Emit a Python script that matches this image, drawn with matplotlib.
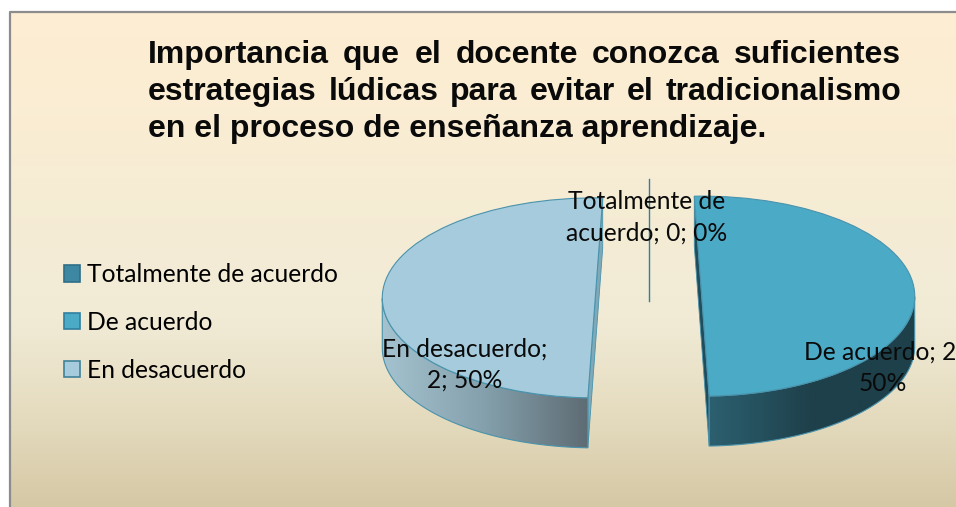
import numpy as np
import matplotlib
matplotlib.use("Agg")
import matplotlib.pyplot as plt
from matplotlib.colors import LinearSegmentedColormap
from matplotlib.patches import Patch, Polygon

title_lines = [
    "Importancia que el docente conozca suficientes",
    "estrategias lúdicas para evitar el tradicionalismo",
    "en el proceso de enseñanza aprendizaje.",
]
categories = ["Totalmente de acuerdo", "De acuerdo", "En desacuerdo"]
values = [0, 2, 2]
percents = [0, 50, 50]
label_texts = [
    "Totalmente de\nacuerdo; {v}; {p}%",
    "De acuerdo; {v};\n{p}%",
    "En desacuerdo;\n{v}; {p}%",
]

W, H = 956, 507
CX, CY = 648.5, 297  # centro del pastel en pixeles
RX, RY = 213, 100
DEPTH = 0.5
PERSPECTIVE = [0, 0, -4]  # la perspectiva inclina distinto cada porcion

top_colors = ["#3E87A3", "#4BAAC6", "#A5CBDC"]
edge_color = "#4A93AC"
face_colors = [None, "#1F4D5C", "#7FA9B9"]
side_colors = [
    None,
    ["#2C6070", "#1E404A", "#1E404A"],
    ["#A4C2CF", "#84A0AC", "#5E6C74"],
]
label_pos = [(647, 217), (883, 368), (465, 364.5)]

plt.rcParams["font.family"] = ["Lato", "DejaVu Sans"]
fig = plt.figure(figsize=(W / 100, H / 100), dpi=100, facecolor="white")

# fondo con degradado
bg = fig.add_axes([0, 0, 1, 1])
bg_cmap = LinearSegmentedColormap.from_list(
    "bg",
    [(0, "#FEEED2"), (0.62, "#F1EBD6"), (0.8, "#E6DDC1"), (1, "#D5C8A5")],
)
bg.imshow(np.linspace(0, 1, 256).reshape(-1, 1), cmap=bg_cmap, aspect="auto",
          extent=(10, W, H, 12), zorder=0)
bg.plot([10, 10, W], [H, 12, 12], color="#8C8C8C", lw=1.6, zorder=1)
bg.set_xlim(0, W)
bg.set_ylim(H, 0)
bg.axis("off")


def justified(line, y, x0, x1, justify):
    if not justify:
        bg.text(x0, y, line, fontsize=23, fontweight="bold", va="baseline",
                family="Liberation Sans", color="#0A0A0A")
        return
    words = line.split()
    items = [bg.text(0, y, w, fontsize=23, fontweight="bold", va="baseline",
                     family="Liberation Sans", color="#0A0A0A") for w in words]
    renderer = fig.canvas.get_renderer()
    widths = [t.get_window_extent(renderer).width for t in items]
    gap = (x1 - x0 - sum(widths)) / (len(words) - 1)
    x = x0
    for t, w in zip(items, widths):
        t.set_x(x)
        x += w + gap


for i, line in enumerate(title_lines):
    justified(line, 63 + i * 37, 148, 901, i < len(title_lines) - 1)

# pastel: una elipse con pie() y eje sin aspecto igual
ax = fig.add_axes([0, 0, 1, 1])
wedges, _ = ax.pie(values, colors=top_colors, startangle=92, counterclock=False,
                   explode=[0, 0.25, 0.25],
                   wedgeprops={"edgecolor": edge_color, "linewidth": 0.8, "zorder": 4})
ax.set_aspect("auto")

for i, wedge in enumerate(wedges):
    if values[i] == 0:
        wedge.set_visible(False)
        continue
    wedge.set_theta1(wedge.theta1 + PERSPECTIVE[i])
    wedge.set_theta2(wedge.theta2 + PERSPECTIVE[i])
    t1, t2 = wedge.theta1, wedge.theta2
    cx, cy = wedge.center
    p1 = (cx + np.cos(np.radians(t1)), cy + np.sin(np.radians(t1)))
    p2 = (cx + np.cos(np.radians(t2)), cy + np.sin(np.radians(t2)))
    back, front = (p2, p1) if p2[1] > p1[1] else (p1, p2)

    # cara del corte
    ax.add_patch(Polygon([back, front, (front[0], front[1] - DEPTH), (back[0], back[1] - DEPTH)],
                         facecolor=face_colors[i], edgecolor=edge_color, lw=0.6, zorder=2))

    # pared lateral visible (mitad inferior de la elipse)
    angles = np.linspace(t1, t2, 200)
    angles = angles[np.sin(np.radians(angles)) < 0]
    xs = cx + np.cos(np.radians(angles))
    ys = cy + np.sin(np.radians(angles))
    pts = np.vstack([np.column_stack([xs, ys]), np.column_stack([xs, ys - DEPTH])[::-1]])
    wall = Polygon(pts, facecolor="none", edgecolor=edge_color, lw=0.8, zorder=3)
    ax.add_patch(wall)
    cmap = LinearSegmentedColormap.from_list(f"side{i}", side_colors[i])
    grad = ax.imshow(np.linspace(0, 1, 256).reshape(1, -1), cmap=cmap, aspect="auto",
                     extent=(xs.min(), xs.max(), ys.min() - DEPTH, ys.max()), zorder=2.5)
    grad.set_clip_path(wall)

# linea guia de la categoria con valor cero
ax.plot([0, 0], [1.18, -0.04], color="#2F7F9F", lw=1, zorder=5)

ax.set_xlim(-CX / RX, (W - CX) / RX)
ax.set_ylim(-(H - CY) / RY, CY / RY)

for i, text in enumerate(label_texts):
    lx = (label_pos[i][0] - CX) / RX
    ly = (CY - label_pos[i][1]) / RY
    ax.text(lx, ly, text.format(v=values[i], p=percents[i]), ha="center", va="center",
            multialignment="center", fontsize=17.7, linespacing=1.45, color="#0A0A0A", zorder=6)

handles = [Patch(facecolor=c, edgecolor=e, lw=1.2)
           for c, e in zip(top_colors, ["#2F6F88", "#2F7F9F", "#3F8299"])]
ax.legend(handles, categories, loc="upper left", bbox_to_anchor=(64 / W, 1 - 263 / H),
          frameon=False, fontsize=17.7, handlelength=0.65, handleheight=0.65,
          handletextpad=0.28, labelspacing=1.01, borderaxespad=0, borderpad=0)

fig.savefig("out.png", dpi=100, facecolor="white")
